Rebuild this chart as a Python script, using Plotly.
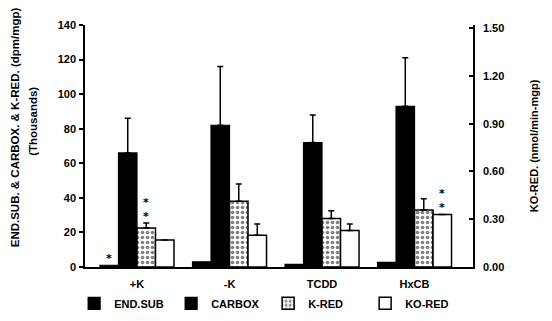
import plotly.graph_objects as go

# ---- data ----
categories = ["+K", "-K", "TCDD", "HxCB"]
series_names = ["END.SUB", "CARBOX", "K-RED", "KO-RED"]

end_sub = [1.0, 3.0, 1.5, 2.7]
carbox = [66, 82, 72, 93]
carbox_err = [20, 34, 16, 28]
k_red = [22.5, 38, 28, 33]
k_red_err = [3, 10, 4.5, 6.5]
ko_red = [0.17, 0.20, 0.23, 0.33]          # right axis (nmol/min-mgp)
ko_red_err = [0, 0.07, 0.04, 0]

left_ticks = [0, 20, 40, 60, 80, 100, 120, 140]
right_ticks = [0.0, 0.3, 0.6, 0.9, 1.2, 1.5]

# significance markers: (series index, category index, label)
sig_marks = [(0, 0, "*"), (2, 0, "*<br>*"), (3, 3, "*<br>*")]

FONT = "Liberation Sans"
x_idx = list(range(len(categories)))
bar_w = 0.2
offsets = [-0.4, -0.2, 0.0, 0.2]

fig = go.Figure()
err_style = dict(type="data", symmetric=False, color="black", thickness=1.5, width=3)

fig.add_trace(go.Bar(
    x=x_idx, y=end_sub, name=series_names[0], width=bar_w, offset=offsets[0],
    marker=dict(color="black", line=dict(color="black", width=1.2)),
))
fig.add_trace(go.Bar(
    x=x_idx, y=carbox, name=series_names[1], width=bar_w, offset=offsets[1],
    marker=dict(color="black", line=dict(color="black", width=1.2)),
    error_y=dict(array=carbox_err, arrayminus=[0] * 4, **err_style),
))
fig.add_trace(go.Bar(
    x=x_idx, y=k_red, name=series_names[2], width=bar_w, offset=offsets[2],
    marker=dict(color="white", line=dict(color="black", width=1.5),
                pattern=dict(shape=".", fgcolor="black", bgcolor="white",
                             size=5, solidity=0.4)),
    error_y=dict(array=k_red_err, arrayminus=[0] * 4, **err_style),
))
fig.add_trace(go.Bar(
    x=x_idx, y=ko_red, name=series_names[3], width=bar_w, offset=offsets[3],
    marker=dict(color="white", line=dict(color="black", width=1.5)),
    error_y=dict(array=ko_red_err, arrayminus=[0] * 4, **err_style),
    yaxis="y2",
))

# significance asterisks placed from data
vals = [end_sub, carbox, k_red, ko_red]
errs = [[0] * 4, carbox_err, k_red_err, ko_red_err]
for s, c, lab in sig_marks:
    fig.add_annotation(
        x=c + offsets[s] + bar_w / 2, y=vals[s][c] + errs[s][c],
        yref="y2" if s == 3 else "y", text=lab, showarrow=False,
        yanchor="bottom", yshift=-2,
        font=dict(family="DejaVu Sans", size=11, color="black", weight="bold"),
    )

# axis titles as annotations
fig.add_annotation(
    xref="paper", yref="paper", x=-0.180, y=0.578, xanchor="center", yanchor="middle",
    text="END.SUB. & CARBOX. & K-RED. (dpm/mgp)", textangle=-90,
    showarrow=False, font=dict(family=FONT, size=11.5, color="black", weight="bold"),
)
fig.add_annotation(
    xref="paper", yref="paper", x=-0.134, y=0.60, xanchor="center", yanchor="middle",
    text="(Thousands)", textangle=-90,
    showarrow=False, font=dict(family=FONT, size=11.5, color="black", weight="bold"),
)
fig.add_annotation(
    xref="paper", yref="paper", x=1.158, y=0.5, xanchor="center", yanchor="middle",
    text="KO-RED. (nmol/min-mgp)", textangle=-90,
    showarrow=False, font=dict(family=FONT, size=11, color="black", weight="bold"),
)

tickfont = dict(family=FONT, size=11, color="black", weight="bold")
# the page body adds an 8px margin, so the figure is sized/margined to compensate
fig.update_layout(
    width=544, height=313,
    margin=dict(l=77, r=79, t=17, b=54, autoexpand=False),
    paper_bgcolor="white", plot_bgcolor="white",
    barmode="overlay",
    showlegend=True,
    legend=dict(orientation="h", x=-0.028, y=-0.09, xanchor="left", yanchor="top",
                bgcolor="rgba(0,0,0,0)",
                font=dict(family=FONT, size=11, color="black", weight="bold"),
                entrywidth=52, entrywidthmode="pixels", traceorder="normal"),
    xaxis=dict(range=[-0.562, 3.632], tickvals=x_idx, ticktext=categories,
               showline=True, linecolor="black", linewidth=1.5, ticks="",
               ticklabelstandoff=6,
               showgrid=False, zeroline=False, tickfont=tickfont),
    yaxis=dict(range=[0, 140], tickvals=left_ticks, showline=True, linecolor="black",
               linewidth=1.5, ticks="outside", ticklen=4, tickwidth=1.5, tickcolor="black",
               ticklabelstandoff=1,
               showgrid=False, zeroline=False, tickfont=tickfont),
    yaxis2=dict(range=[0, 1.52], overlaying="y", side="right", tickvals=right_ticks,
                ticktext=[f"{v:.2f}" for v in right_ticks], showline=True,
                linecolor="black", linewidth=1.5, ticks="inside", ticklen=4,
                tickwidth=1.5, tickcolor="black", showgrid=False, zeroline=False,
                ticklabelstandoff=6, tickfont=tickfont),
)

fig.write_html("out.html")
